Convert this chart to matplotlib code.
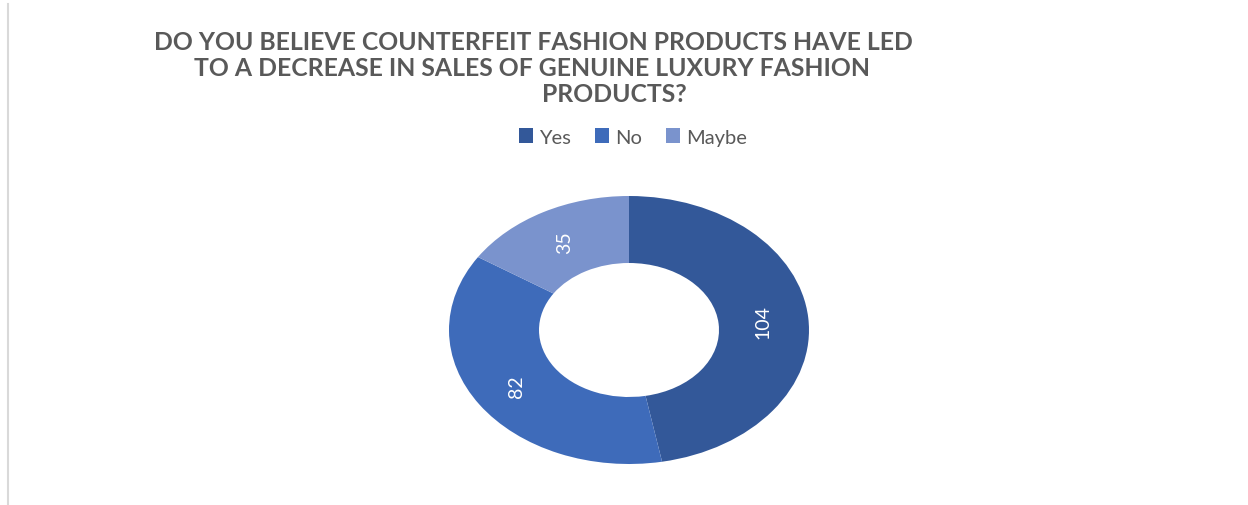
import math
import matplotlib.pyplot as plt
from matplotlib.patches import Patch

labels = ["Yes", "No", "Maybe"]
counts = [104, 82, 35]
colors = ["#335899", "#3e6bba", "#7a93cd"]
title_lines = ["DO YOU BELIEVE COUNTERFEIT FASHION PRODUCTS HAVE LED",
               "TO A DECREASE IN SALES OF GENUINE LUXURY FASHION",
               "PRODUCTS?"]

plt.rcParams['font.family'] = ['Lato', 'DejaVu Sans']
W, H = 1248, 506
fig = plt.figure(figsize=(W / 100, H / 100), dpi=100)

# donut is stretched: wider than tall
ax = fig.add_axes([449 / W, (H - 465) / H, 360 / W, 268 / H])
wedges, _ = ax.pie(counts, colors=colors, startangle=90, counterclock=False,
                   radius=1.0, wedgeprops=dict(width=0.5, edgecolor='none'))
ax.set_aspect('auto')
ax.set_xlim(-1, 1)
ax.set_ylim(-1, 1)
ax.axis('off')

for w, c in zip(wedges, counts):
    mid = math.radians((w.theta1 + w.theta2) / 2)
    ax.text(0.75 * math.cos(mid), 0.75 * math.sin(mid), str(c), rotation=90,
            ha='center', va='center', color='white', fontsize=14)

# title, each line placed separately
title_x = [533 / W, 532 / W, 614 / W]
title_y = [42, 68, 95]
for s, x, y in zip(title_lines, title_x, title_y):
    fig.text(x, 1 - y / H, s, ha='center', va='center', fontsize=17.8,
             fontweight='bold', color='#595959')

handles = [Patch(facecolor=c, edgecolor='none') for c in colors]
fig.legend(handles, labels, loc='center', bbox_to_anchor=(633 / W, 1 - 138 / H),
           ncol=3, frameon=False, fontsize=14.5, labelcolor='#595959',
           handlelength=0.7, handleheight=0.7, handletextpad=0.3, columnspacing=1.2)

# thin border line at the left edge
fig.add_artist(plt.Line2D([8 / W, 8 / W], [0, 1 - 5 / H], color='#d9d9d9', lw=1.5))

fig.savefig("out.png", dpi=100, facecolor='white')
